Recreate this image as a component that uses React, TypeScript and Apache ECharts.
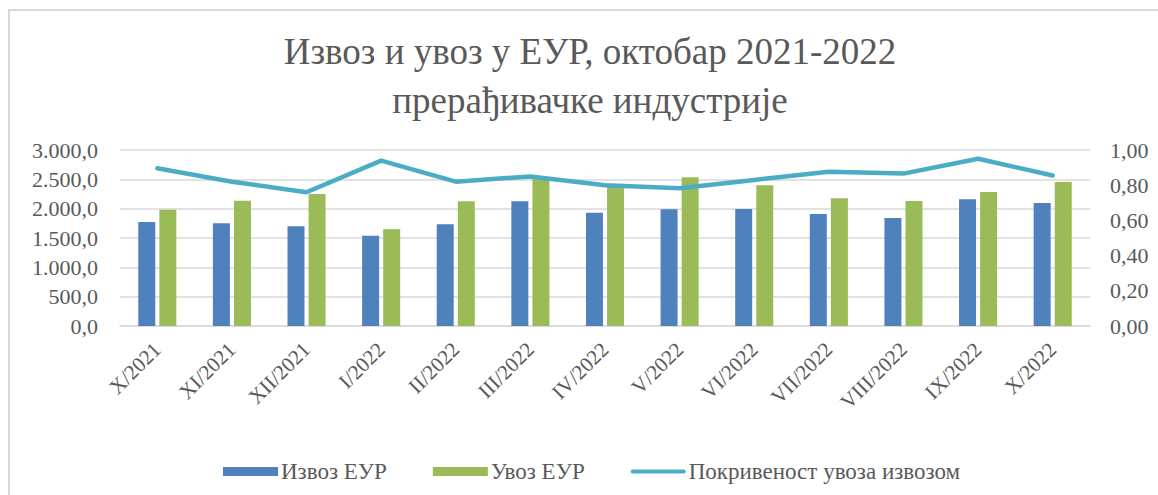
import React, { useEffect, useRef } from "react";
import * as echarts from "echarts";

const categories = ["X/2021", "XI/2021", "XII/2021", "I/2022", "II/2022", "III/2022", "IV/2022", "V/2022", "VI/2022", "VII/2022", "VIII/2022", "IX/2022", "X/2022"];
const exportEUR = [1773, 1750, 1699, 1540, 1733, 2125, 1932, 1989, 1994, 1909, 1841, 2159, 2097];
const importEUR = [1983, 2136, 2250, 1648, 2125, 2505, 2400, 2534, 2398, 2176, 2131, 2284, 2455];
const coverage = [0.896, 0.82, 0.76, 0.94, 0.82, 0.85, 0.8, 0.783, 0.83, 0.877, 0.866, 0.95, 0.855];
const seriesNames = ["Извоз ЕУР", "Увоз ЕУР", "Покривеност увоза извозом"];
const titleLines = ["Извоз и увоз у ЕУР, октобар 2021-2022", "прерађивачке индустрије"];

const FONT = "Liberation Serif";
const TEXT = "#595959";
const GRID = "#d9d9d9";

function fmtLeft(v: number): string {
  const s = v.toFixed(1);
  const [i, d] = s.split(".");
  return i.replace(/\B(?=(\d{3})+(?!\d))/g, ".") + "," + d;
}
function fmtRight(v: number): string {
  return v.toFixed(2).replace(".", ",");
}

export default function App() {
  const ref = useRef<HTMLDivElement>(null);
  useEffect(() => {
    if (!ref.current) return;
    const chart = echarts.init(ref.current, null, { renderer: "svg" });
    chart.setOption({
      animation: false,
      backgroundColor: "#ffffff",
      textStyle: { fontFamily: FONT },
      graphic: [
        {
          type: "rect",
          shape: { x: 9, y: 10, width: 1200, height: 600 },
          style: { fill: "none", stroke: GRID, lineWidth: 2 },
          silent: true,
        },
        ...titleLines.map((t, i) => ({
          type: "text",
          x: 590,
          y: 51 + i * 49,
          silent: true,
          style: {
            text: t,
            fill: TEXT,
            font: "37px 'Liberation Serif'",
            textAlign: "center",
            textVerticalAlign: "middle",
          },
        })),
      ],
      legend: {
        left: 218,
        top: 455,
        itemWidth: 55,
        itemHeight: 9,
        itemGap: 46,
        textStyle: { fontFamily: FONT, fontSize: 23, color: TEXT, padding: [0, 0, 0, -2] },
        data: [
          { name: seriesNames[0], icon: "rect" },
          { name: seriesNames[1], icon: "rect" },
          { name: seriesNames[2], icon: "path://M2,0 L53,0 A2,2 0 0 1 53,4 L2,4 A2,2 0 0 1 2,0 Z" },
        ],
      },
      grid: { left: 120, right: 68, top: 150, bottom: 169, containLabel: false },
      xAxis: {
        type: "category",
        data: categories,
        axisLine: { show: true, lineStyle: { color: GRID, width: 1.5 } },
        axisTick: { show: false },
        axisLabel: { rotate: 45, fontFamily: FONT, fontSize: 21, color: TEXT, margin: 20, interval: 0 },
      },
      yAxis: [
        {
          type: "value",
          min: 0,
          max: 3000,
          interval: 500,
          axisLine: { show: false },
          axisTick: { show: false },
          splitLine: { lineStyle: { color: GRID, width: 1.5 } },
          axisLabel: { formatter: fmtLeft, fontFamily: FONT, fontSize: 22, color: TEXT, margin: 22 },
        },
        {
          type: "value",
          min: 0,
          max: 1,
          interval: 0.2,
          axisLine: { show: false },
          axisTick: { show: false },
          splitLine: { show: false },
          axisLabel: { formatter: fmtRight, fontFamily: FONT, fontSize: 22, color: TEXT, margin: 20 },
        },
      ],
      series: [
        {
          name: seriesNames[0],
          type: "bar",
          data: exportEUR,
          barWidth: 17,
          barGap: "24%",
          itemStyle: { color: "#4F81BD" },
        },
        {
          name: seriesNames[1],
          type: "bar",
          data: importEUR,
          barWidth: 17,
          barGap: "24%",
          itemStyle: { color: "#9BBB59" },
        },
        {
          name: seriesNames[2],
          type: "line",
          yAxisIndex: 1,
          data: coverage,
          symbol: "none",
          lineStyle: { color: "#4BACC6", width: 4.5, cap: "round", join: "round" },
          itemStyle: { color: "#4BACC6" },
          z: 5,
        },
      ],
    });
    return () => chart.dispose();
  }, []);
  return <div ref={ref} style={{ position: "fixed", left: 0, top: 0, width: 1158, height: 495 }} />;
}
